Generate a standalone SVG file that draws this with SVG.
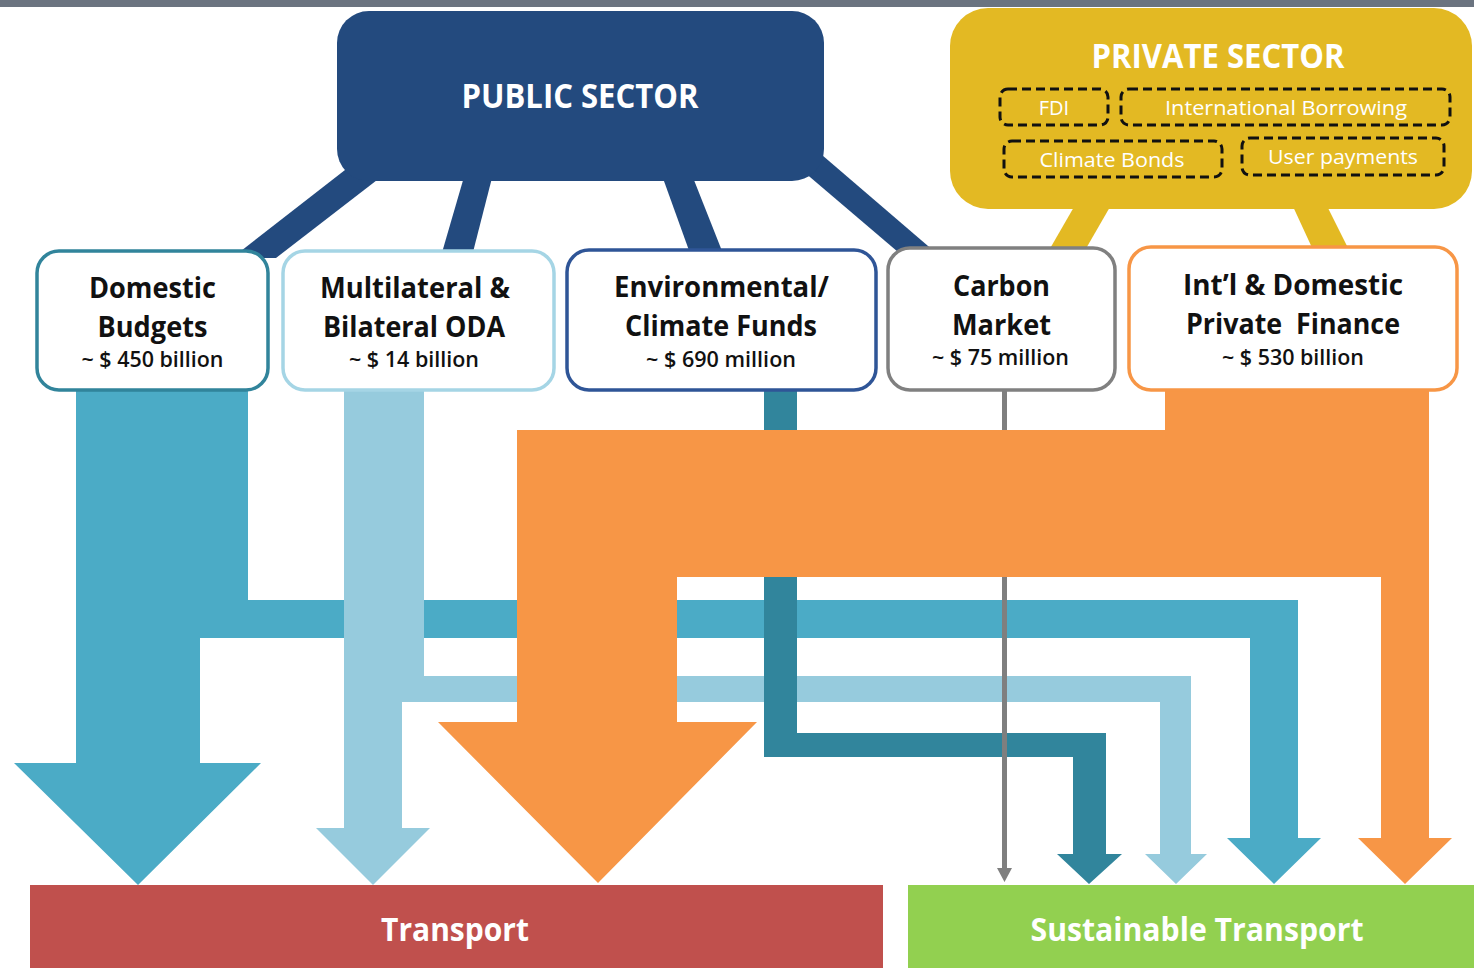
<svg xmlns="http://www.w3.org/2000/svg" width="1474" height="968" viewBox="0 0 1474 968">
<style>
.t{font-family:"Open Sans","Noto Sans","Liberation Sans",sans-serif;text-anchor:middle}
.h{font-weight:700;font-size:29px;fill:#111}
.s{font-weight:600;font-size:21px;fill:#111}
.w{font-weight:700;fill:#fff}
.d{font-weight:400;font-size:20px;fill:#fff}
.box{fill:#fff;stroke-width:3.5}
.dash{fill:none;stroke:#111;stroke-width:3;stroke-dasharray:9 5}
</style>
<rect x="0" y="0" width="1474" height="968" fill="#fff"/>
<rect x="0" y="0" width="1474" height="7" fill="#6b7480"/>

<g id="public-sector">
<polygon points="345,170 390,170 276,258 232,258" fill="#234a7e"/>
<polygon points="466,170 494,170 472,256 441,256" fill="#234a7e"/>
<polygon points="660,170 690,170 724,256 691,256" fill="#234a7e"/>
<polygon points="790,160 822,155 935,252 898,252" fill="#234a7e"/>
<rect x="337" y="11" width="487" height="170" rx="32" fill="#234a7e"/>
<text class="t w" x="580" y="108" font-size="34" textLength="237" lengthAdjust="spacingAndGlyphs">PUBLIC SECTOR</text>
</g>

<g id="private-sector">
<polygon points="1078,200 1114,200 1084,252 1048,252" fill="#e3b923"/>
<polygon points="1290,200 1324,200 1350,252 1314,252" fill="#e3b923"/>
<rect x="950" y="8" width="522" height="201" rx="38" fill="#e3b923"/>
<text class="t w" x="1218" y="68" font-size="34" textLength="253" lengthAdjust="spacingAndGlyphs">PRIVATE SECTOR</text>
<rect class="dash" x="1000" y="89" width="108" height="36" rx="8"/>
<text class="t d" x="1054" y="115">FDI</text>
<rect class="dash" x="1121" y="89" width="329" height="36" rx="8"/>
<text class="t d" x="1286" y="115" textLength="242" lengthAdjust="spacingAndGlyphs">International Borrowing</text>
<rect class="dash" x="1004" y="141" width="218" height="36" rx="8"/>
<text class="t d" x="1112" y="167" textLength="145" lengthAdjust="spacingAndGlyphs">Climate Bonds</text>
<rect class="dash" x="1242" y="138" width="202" height="37" rx="8"/>
<text class="t d" x="1343" y="164" textLength="150" lengthAdjust="spacingAndGlyphs">User payments</text>
</g>

<g id="connectors">
<path id="flow-domestic" fill="#4babc6" d="M76,385 L248,385 L248,600 L1298,600 L1298,838 L1321,838 L1274,884 L1227,838 L1250,838 L1250,638 L200,638 L200,763 L261,763 L138,885 L14,763 L76,763 Z"/>
<path id="flow-oda" fill="#96cbdd" d="M344,385 L424,385 L424,676 L1191,676 L1191,854 L1207,854 L1176,884 L1145,854 L1160,854 L1160,702 L402,702 L402,828 L430,828 L373,885 L316,828 L344,828 Z"/>
<path id="flow-climate" fill="#31859c" d="M764,385 L797,385 L797,733 L1106,733 L1106,854 L1122,854 L1089,884 L1057,854 L1073,854 L1073,757 L764,757 Z"/>
<path id="flow-carbon" fill="#7f7f7f" d="M1002,385 L1007,385 L1007,868 L1012,868 L1004.5,882 L997,868 L1002,868 Z"/>
<path id="flow-private" fill="#f79646" d="M1165,385 L1429,385 L1429,838 L1452,838 L1405,884 L1358,838 L1381,838 L1381,577 L677,577 L677,722 L757,722 L598,883 L438,722 L517,722 L517,430 L1165,430 Z"/>
</g>

<g id="domestic-budgets">
<rect class="box" x="37" y="251" width="231" height="139" rx="22" stroke="#31849b"/>
<text class="t h" x="152.5" y="298" textLength="127" lengthAdjust="spacingAndGlyphs">Domestic</text>
<text class="t h" x="152.5" y="337" textLength="110" lengthAdjust="spacingAndGlyphs">Budgets</text>
<text class="t s" x="152.5" y="367" textLength="142" lengthAdjust="spacingAndGlyphs">~ $ 450 billion</text>
</g>

<g id="oda">
<rect class="box" x="283" y="251" width="271" height="139" rx="22" stroke="#a5d5e5"/>
<text class="t h" x="415" y="298" textLength="190" lengthAdjust="spacingAndGlyphs">Multilateral &amp;</text>
<text class="t h" x="414" y="337" textLength="182" lengthAdjust="spacingAndGlyphs">Bilateral ODA</text>
<text class="t s" x="414" y="367" textLength="130" lengthAdjust="spacingAndGlyphs">~ $ 14 billion</text>
</g>

<g id="climate-funds">
<rect class="box" x="567" y="250" width="309" height="140" rx="22" stroke="#2f5597"/>
<text class="t h" x="721.5" y="297" textLength="215" lengthAdjust="spacingAndGlyphs">Environmental/</text>
<text class="t h" x="721" y="336" textLength="192" lengthAdjust="spacingAndGlyphs">Climate Funds</text>
<text class="t s" x="721" y="367" textLength="150" lengthAdjust="spacingAndGlyphs">~ $ 690 million</text>
</g>

<g id="carbon-market">
<rect class="box" x="888" y="248" width="227" height="142" rx="22" stroke="#808080"/>
<text class="t h" x="1001.5" y="296" textLength="97" lengthAdjust="spacingAndGlyphs">Carbon</text>
<text class="t h" x="1001.5" y="335" textLength="99" lengthAdjust="spacingAndGlyphs">Market</text>
<text class="t s" x="1000.5" y="365" textLength="137" lengthAdjust="spacingAndGlyphs">~ $ 75 million</text>
</g>

<g id="private-finance">
<rect class="box" x="1129" y="247" width="328" height="143" rx="22" stroke="#f79646"/>
<text class="t h" x="1293" y="295" textLength="220" lengthAdjust="spacingAndGlyphs">Int’l &amp; Domestic</text>
<text class="t h" x="1293" y="334" textLength="214" lengthAdjust="spacingAndGlyphs">Private&#160; Finance</text>
<text class="t s" x="1293" y="365" textLength="142" lengthAdjust="spacingAndGlyphs">~ $ 530 billion</text>
</g>

<g id="transport">
<rect x="30" y="885" width="853" height="83" fill="#c0504d"/>
<text class="t w" x="455" y="941" font-size="33" textLength="148" lengthAdjust="spacingAndGlyphs">Transport</text>
</g>

<g id="sustainable-transport">
<rect x="908" y="885" width="566" height="83" fill="#92d050"/>
<text class="t w" x="1197" y="941" font-size="33" textLength="333" lengthAdjust="spacingAndGlyphs">Sustainable Transport</text>
</g>
</svg>
